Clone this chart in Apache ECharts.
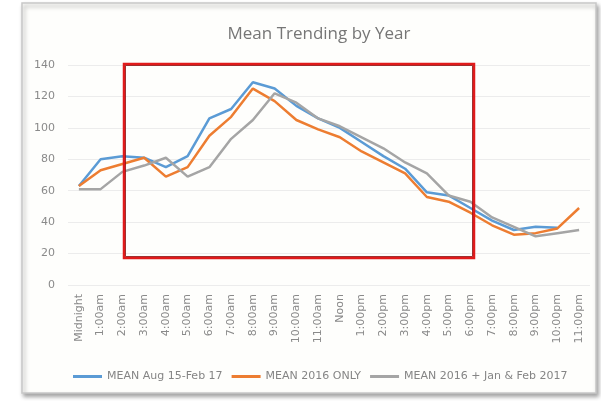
<!DOCTYPE html>
<html>
<head>
    <meta charset="utf-8" />
    <script src="https://cdn.jsdelivr.net/npm/echarts@6/dist/echarts.min.js"></script>
</head>
<body style="margin:0;background:#fff;">
<div id="main" style="width: 601px;height:401px;"></div>
<script>
    var hours = ['Midnight', '1:00am', '2:00am', '3:00am', '4:00am', '5:00am', '6:00am', '7:00am',
        '8:00am', '9:00am', '10:00am', '11:00am', 'Noon', '1:00pm', '2:00pm', '3:00pm', '4:00pm',
        '5:00pm', '6:00pm', '7:00pm', '8:00pm', '9:00pm', '10:00pm', '11:00pm'];

    var seriesNames = ['MEAN Aug 15-Feb 17', 'MEAN 2016 ONLY', 'MEAN 2016 + Jan & Feb 2017'];

    var meanAugFeb = [63, 80, 82, 81, 75, 82, 106, 112, 129, 125, 114, 106,
        100, 91, 82, 74, 59, 57, 49, 41, 35, 37, 36.5, null];
    var mean2016 = [63, 73, 77, 81, 69, 75, 95, 107, 125, 117, 105, 99,
        94, 85, 78, 71, 56, 53, 46, 38, 32, 33, 36, 49];
    var mean2016JanFeb = [61, 61, 72, 76, 81, 69, 75, 93, 105, 122, 116, 106,
        101, 94, 87, 78, 71, 57, 53, 43, 37, 31, 33, 35];

    var colors = ['#5b9bd5', '#ed7d31', '#a5a5a5'];
    var labelFont = '"DejaVu Sans", sans-serif';

    var myChart = echarts.init(document.getElementById('main'));

    function lineSeries(name, data, color) {
        return {
            name: name,
            type: 'line',
            data: data,
            symbol: 'none',
            connectNulls: false,
            lineStyle: { width: 2.5, color: color },
            itemStyle: { color: color }
        };
    }

    var option = {
        backgroundColor: '#ffffff',
        animation: false,
        title: {
            text: 'Mean Trending by Year',
            left: 314,
            textAlign: 'center',
            top: 21,
            textStyle: { fontSize: 17, fontWeight: 'normal', color: '#767676', fontFamily: '"Open Sans", sans-serif' }
        },
        legend: {
            left: 68,
            top: 366,
            itemWidth: 29,
            itemHeight: 3,
            itemGap: 9,
            icon: 'rect',
            textStyle: { fontSize: 11, color: '#858585', fontFamily: labelFont },
            data: seriesNames
        },
        grid: {
            left: 68,
            right: 11,
            top: 65,
            bottom: 116
        },
        xAxis: {
            type: 'category',
            data: hours,
            boundaryGap: true,
            axisLine: { show: false },
            axisTick: { show: false },
            axisLabel: { rotate: 90, fontSize: 11, color: '#8a8a8a', margin: 9, interval: 0, fontFamily: labelFont }
        },
        yAxis: {
            type: 'value',
            min: 0,
            max: 140,
            interval: 20,
            axisLine: { show: false },
            axisTick: { show: false },
            axisLabel: { fontSize: 11, color: '#8a8a8a', margin: 13, fontFamily: labelFont },
            splitLine: { lineStyle: { color: '#ececec', width: 1 } }
        },
        graphic: [
            {
                type: 'rect',
                z: -10,
                silent: true,
                shape: { x: 22, y: 3, width: 574, height: 390 },
                style: {
                    fill: '#fefefc',
                    stroke: '#c8c8c8',
                    lineWidth: 1.5,
                    shadowBlur: 4,
                    shadowOffsetX: 2,
                    shadowOffsetY: 3,
                    shadowColor: 'rgba(0,0,0,0.35)'
                }
            },
            {
                type: 'rect',
                z: 100,
                silent: true,
                shape: { x: 124, y: 64, width: 350, height: 194 },
                style: { fill: 'none', stroke: '#e01a1a', lineWidth: 2.5 }
            },
            {
                type: 'rect',
                z: 101,
                silent: true,
                shape: { x: 125.5, y: 65.5, width: 347, height: 191 },
                style: { fill: 'none', stroke: '#8a0a0a', lineWidth: 0.8 }
            }
        ],
        series: [
            lineSeries(seriesNames[0], meanAugFeb, colors[0]),
            lineSeries(seriesNames[1], mean2016, colors[1]),
            lineSeries(seriesNames[2], mean2016JanFeb, colors[2])
        ]
    };

    myChart.setOption(option);
</script>
</body>
</html>
